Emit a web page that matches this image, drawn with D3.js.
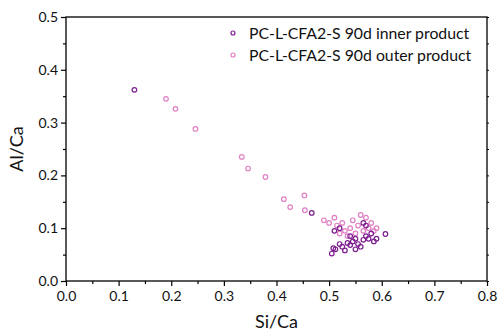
<!DOCTYPE html>
<html>
<head>
<meta charset="utf-8">
<script src="https://cdn.jsdelivr.net/npm/d3@7/dist/d3.min.js"></script>
<style>
  html, body { margin: 0; padding: 0; background: #fff; }
  svg text { font-family: "Lato", "Open Sans", sans-serif; fill: #111; }
</style>
</head>
<body>
<svg id="chart" width="499" height="335"></svg>
<script>
// Si/Ca vs Al/Ca atomic ratios
const seriesNames = ["PC-L-CFA2-S 90d inner product", "PC-L-CFA2-S 90d outer product"];
const seriesColors = ["#7d1f8f", "#e07fc4"];

const innerSiCa = [0.130, 0.467, 0.505, 0.508, 0.512, 0.520, 0.525, 0.530, 0.535, 0.540, 0.545, 0.550, 0.555, 0.560, 0.565, 0.570, 0.575, 0.580, 0.585, 0.590, 0.565, 0.570, 0.607, 0.510, 0.520, 0.550, 0.540];
const innerAlCa = [0.362, 0.129, 0.052, 0.062, 0.060, 0.070, 0.065, 0.058, 0.072, 0.068, 0.075, 0.080, 0.070, 0.065, 0.078, 0.085, 0.080, 0.090, 0.075, 0.080, 0.110, 0.105, 0.089, 0.095, 0.100, 0.060, 0.085];

const outerSiCa = [0.190, 0.208, 0.246, 0.334, 0.346, 0.379, 0.414, 0.426, 0.453, 0.454, 0.490, 0.500, 0.510, 0.515, 0.520, 0.525, 0.530, 0.540, 0.545, 0.550, 0.555, 0.560, 0.565, 0.570, 0.575, 0.580, 0.585, 0.590, 0.535];
const outerAlCa = [0.345, 0.326, 0.288, 0.235, 0.213, 0.197, 0.155, 0.140, 0.162, 0.134, 0.115, 0.110, 0.120, 0.105, 0.090, 0.110, 0.095, 0.100, 0.115, 0.090, 0.105, 0.125, 0.095, 0.120, 0.100, 0.110, 0.095, 0.100, 0.085];

const xTicks = [0.0, 0.1, 0.2, 0.3, 0.4, 0.5, 0.6, 0.7, 0.8];
const yTicks = [0.0, 0.1, 0.2, 0.3, 0.4, 0.5];
const xTitle = "Si/Ca";
const yTitle = "Al/Ca";

const svg = d3.select("#chart");
const m = { left: 66, right: 487, top: 17, bottom: 281 };

const x = d3.scaleLinear().domain([0, 0.8]).range([m.left, m.right]);
const y = d3.scaleLinear().domain([0, 0.5]).range([m.bottom, m.top]);

const fmt = d3.format(".1f");
const xMinor = d3.range(0.05, 0.8, 0.1);
const yMinor = d3.range(0.05, 0.5, 0.1);

// frame
svg.append("rect")
  .attr("x", m.left).attr("y", m.top)
  .attr("width", m.right - m.left).attr("height", m.bottom - m.top)
  .attr("fill", "none").attr("stroke", "#000").attr("stroke-width", 1.3);

// bottom axis
const gx = svg.append("g").attr("transform", `translate(0,${m.bottom})`)
  .call(d3.axisBottom(x).tickValues(xTicks).tickFormat(fmt).tickSize(5).tickSizeOuter(0));
gx.append("g").call(d3.axisBottom(x).tickValues(xMinor).tickFormat("").tickSize(3).tickSizeOuter(0));
gx.selectAll(".domain").remove();
gx.selectAll("line").attr("stroke", "#000").attr("stroke-width", 1.2);
gx.selectAll("text").attr("font-size", 14).attr("dy", "0.95em").attr("y", 7);

// left axis
const gy = svg.append("g").attr("transform", `translate(${m.left},0)`)
  .call(d3.axisLeft(y).tickValues(yTicks).tickFormat(fmt).tickSize(5).tickSizeOuter(0));
gy.append("g").call(d3.axisLeft(y).tickValues(yMinor).tickFormat("").tickSize(3).tickSizeOuter(0));
gy.selectAll(".domain").remove();
gy.selectAll("line").attr("stroke", "#000").attr("stroke-width", 1.2);
gy.selectAll("text").attr("font-size", 14).attr("x", -8);

// right axis ticks
const gr = svg.append("g").attr("transform", `translate(${m.right},0)`)
  .call(d3.axisRight(y).tickValues(yTicks.concat(yMinor)).tickFormat("").tickSize(2).tickSizeOuter(0));
gr.selectAll(".domain").remove();
gr.selectAll("line").attr("stroke", "#000").attr("stroke-width", 1);

// axis titles
svg.append("text").attr("x", (m.left + m.right) / 2).attr("y", 328)
  .attr("text-anchor", "middle").attr("font-size", 18).text(xTitle);
svg.append("text").attr("transform", `translate(23,${(m.top + m.bottom) / 2}) rotate(-90)`)
  .attr("text-anchor", "middle").attr("font-size", 18).text(yTitle);

// points
const sets = [
  d3.zip(innerSiCa, innerAlCa),
  d3.zip(outerSiCa, outerAlCa)
];
// outer drawn first so inner sits on top
[1, 0].forEach(i => {
  svg.append("g").selectAll("circle").data(sets[i]).join("circle")
    .attr("cx", d => x(d[0])).attr("cy", d => y(d[1]))
    .attr("r", 2.3).attr("fill", "none")
    .attr("stroke", seriesColors[i]).attr("stroke-width", 1.2);
});

// legend
const lg = svg.append("g");
seriesNames.forEach((name, i) => {
  const yy = 33 + i * 22;
  lg.append("circle").attr("cx", 233).attr("cy", yy).attr("r", 2)
    .attr("fill", "none").attr("stroke", seriesColors[i]).attr("stroke-width", 1.2);
  lg.append("text").attr("x", 249).attr("y", yy + 5.5).attr("font-size", 15.8).text(name);
});
</script>
</body>
</html>
